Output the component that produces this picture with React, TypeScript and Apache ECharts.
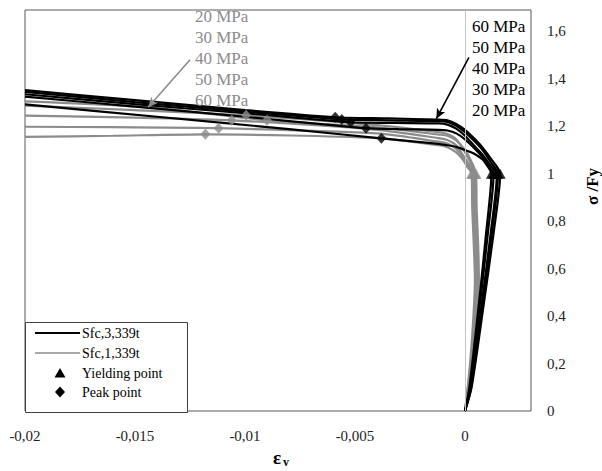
import React, { useEffect, useRef } from "react";
import * as echarts from "echarts";

// ---- Data (ε_v, σ/Fy) ----
const xTicksInterval = 0.005;
const yTicksInterval = 0.2;

// Sfc,3,339t (black) curves
const sfc3_60 = [[0,0],[0.0003,0.1],[0.00085,0.45],[0.0013,0.75],[0.0016,1.0],[0.0012,1.06],[0.0008,1.11],[0.0004,1.15],[0,1.185],[-0.0004,1.21],[-0.0008,1.225],[-0.0012,1.228],[-0.0035,1.233],[-0.0059,1.238],[-0.01,1.268],[-0.015,1.31],[-0.02,1.352]];
const sfc3_50 = [[0,0],[0.00028,0.1],[0.0008,0.45],[0.00122,0.75],[0.0015,1.0],[0.0012,1.045],[0.0008,1.1],[0.0004,1.14],[0,1.175],[-0.0004,1.202],[-0.0008,1.218],[-0.0012,1.222],[-0.0035,1.225],[-0.0056,1.229],[-0.01,1.262],[-0.015,1.302],[-0.02,1.345]];
const sfc3_40 = [[0,0],[0.00026,0.1],[0.00076,0.45],[0.00117,0.75],[0.00145,1.0],[0.0012,1.03],[0.0008,1.08],[0.0004,1.12],[0,1.16],[-0.0004,1.19],[-0.0008,1.207],[-0.0012,1.212],[-0.0032,1.214],[-0.0052,1.217],[-0.01,1.255],[-0.015,1.293],[-0.02,1.335]];
const sfc3_30 = [[0,0],[0.00023,0.1],[0.00068,0.45],[0.00104,0.75],[0.0013,1.0],[0.0011,1.03],[0.0008,1.07],[0.0004,1.11],[0,1.145],[-0.0004,1.17],[-0.0008,1.182],[-0.0012,1.185],[-0.003,1.188],[-0.0045,1.192],[-0.01,1.24],[-0.015,1.283],[-0.02,1.325]];
const sfc3_20 = [[0,0],[0.0002,0.1],[0.00063,0.45],[0.00096,0.75],[0.0012,1.0],[0.001,1.035],[0.0008,1.06],[0.0004,1.085],[0,1.1],[-0.0004,1.113],[-0.0008,1.12],[-0.0012,1.126],[-0.0038,1.149],[-0.008,1.188],[-0.014,1.24],[-0.02,1.292]];

// Sfc,1,339t (grey) curves
const sfc1_20 = [[0,0],[0.00026,0.15],[0.00048,0.35],[0.00063,0.55],[0.0006,0.7],[0.00053,0.85],[0.0005,1.0],[0.0003,1.05],[0,1.1],[-0.0004,1.14],[-0.0008,1.16],[-0.0012,1.165],[-0.004,1.195],[-0.009,1.225],[-0.0144,1.28],[-0.02,1.305]];
const sfc1_30 = [[0,0],[0.00024,0.15],[0.00045,0.35],[0.0006,0.55],[0.00055,0.7],[0.00048,0.85],[0.00045,1.0],[0.00025,1.045],[0,1.09],[-0.0004,1.145],[-0.0008,1.167],[-0.0012,1.175],[-0.004,1.205],[-0.00995,1.246],[-0.015,1.268],[-0.02,1.287]];
const sfc1_40 = [[0,0],[0.00022,0.15],[0.00042,0.35],[0.00055,0.55],[0.0005,0.7],[0.00043,0.85],[0.0004,1.0],[0.0002,1.035],[-0.0001,1.08],[-0.0004,1.12],[-0.0008,1.142],[-0.0012,1.15],[-0.004,1.185],[-0.0106,1.225],[-0.015,1.236],[-0.02,1.245]];
const sfc1_50 = [[0,0],[0.0002,0.15],[0.0004,0.35],[0.0005,0.55],[0.00045,0.7],[0.00038,0.85],[0.00035,1.0],[0.00015,1.03],[-0.0001,1.07],[-0.0004,1.105],[-0.0008,1.127],[-0.0012,1.135],[-0.004,1.17],[-0.0112,1.192],[-0.016,1.196],[-0.02,1.198]];
const sfc1_60 = [[0,0],[0.00018,0.15],[0.00035,0.35],[0.00045,0.55],[0.0004,0.7],[0.00033,0.85],[0.0003,1.0],[0.0001,1.03],[-0.0001,1.06],[-0.0004,1.09],[-0.0008,1.112],[-0.0012,1.12],[-0.004,1.15],[-0.0118,1.166],[-0.016,1.16],[-0.02,1.155]];

// Marked points
const yieldSfc3 = [[0.0016,1.0],[0.0015,1.0],[0.00145,1.0],[0.0013,1.0],[0.0012,1.0]];
const yieldSfc1 = [[0.0005,1.0],[0.00045,1.0],[0.0004,1.0],[0.00035,1.0],[0.0003,1.0]];
const peakSfc3 = [[-0.0059,1.238],[-0.0056,1.229],[-0.0052,1.217],[-0.0045,1.192],[-0.0038,1.149]];
const peakSfc1 = [[-0.009,1.225],[-0.00995,1.246],[-0.0106,1.225],[-0.0112,1.192],[-0.0118,1.166]];

const greyLabels = ["20 MPa", "30 MPa", "40 MPa", "50 MPa", "60 MPa"];
const blackLabels = ["60 MPa", "50 MPa", "40 MPa", "30 MPa", "20 MPa"];

const legendNames = ["Sfc,3,339t", "Sfc,1,339t", "Yielding point", "Peak point"];

const BLACK = "#000000";
const GREY = "#8c8c8c";
const FONT = "Liberation Serif";

const fmt = (v: number) => String(Number(v.toFixed(4))).replace(".", ",");

export default function App() {
  const ref = useRef<HTMLDivElement>(null);
  useEffect(() => {
    if (!ref.current) return;
    const chart = echarts.init(ref.current, undefined, { renderer: "svg" });

    const lineSeries = (name: string, data: number[][], color: string) => ({
      type: "line",
      name,
      data,
      smooth: 0.25,
      symbol: "none",
      showSymbol: false,
      lineStyle: { color, width: 2.2 },
      itemStyle: { color },
      z: color === BLACK ? 3 : 2,
      silent: true,
    });

    const greyCurves = [sfc1_20, sfc1_30, sfc1_40, sfc1_50, sfc1_60];
    const blackCurves = [sfc3_60, sfc3_50, sfc3_40, sfc3_30, sfc3_20];

    const txt = (x: number, y: number, text: string, fill: string, size: number, weight = "normal", extra: any = {}) => ({
      type: "text", x, y, z: 100, ...extra,
      style: {
        text, fill, fontFamily: FONT, fontSize: size, fontWeight: weight,
        verticalAlign: "middle", align: "left",
      },
    });

    const graphics: any[] = [];
    greyLabels.forEach((t, i) => graphics.push(txt(195, 16 + i * 21, t, GREY, 17)));
    blackLabels.forEach((t, i) => graphics.push(txt(472, 26 + i * 21, t, BLACK, 17)));
    graphics.push(txt(273, 457, "ε", BLACK, 19, "bold"));
    graphics.push(txt(283, 462, "v", BLACK, 12, "bold"));
    graphics.push(txt(592, 205, "σ /Fy", BLACK, 17, "bold", { rotation: Math.PI / 2 }));

    // legend box
    const lgX = 25, lgY = 322, lgW = 162, lgH = 90;
    const rowY = [333, 353, 373, 392];
    graphics.push({
      type: "rect", z: 90,
      shape: { x: lgX + 0.5, y: lgY + 0.5, width: lgW, height: lgH },
      style: { fill: "#ffffff", stroke: "#404040", lineWidth: 1 },
    });
    graphics.push({ type: "line", z: 100, shape: { x1: 35, y1: rowY[0], x2: 80, y2: rowY[0] }, style: { stroke: BLACK, lineWidth: 2 } });
    graphics.push({ type: "line", z: 100, shape: { x1: 35, y1: rowY[1], x2: 80, y2: rowY[1] }, style: { stroke: GREY, lineWidth: 1.6 } });
    graphics.push({ type: "polygon", z: 100, shape: { points: [[60, rowY[2] - 5], [65.5, rowY[2] + 4.5], [54.5, rowY[2] + 4.5]] }, style: { fill: BLACK } });
    graphics.push({ type: "polygon", z: 100, shape: { points: [[60, rowY[3] - 5.5], [65, rowY[3]], [60, rowY[3] + 5.5], [55, rowY[3]]] }, style: { fill: BLACK } });
    legendNames.forEach((n, i) => graphics.push(txt(82, rowY[i], n, BLACK, 14)));

    chart.setOption({
      animation: false,
      backgroundColor: "#ffffff",
      textStyle: { fontFamily: FONT },
      grid: {
        left: 25, right: 71, top: 10, bottom: 60,
        show: true, borderColor: "#595959", borderWidth: 1,
      },
      xAxis: {
        type: "value",
        min: -0.02, max: 0.003, interval: xTicksInterval,
        axisLine: { show: false },
        axisTick: { show: false },
        splitLine: { show: false },
        axisLabel: {
          formatter: fmt, showMaxLabel: false, margin: 17,
          color: "#222", fontFamily: FONT, fontSize: 15,
        },
      },
      yAxis: {
        type: "value",
        position: "right",
        min: 0, max: 1.69, interval: yTicksInterval,
        axisLine: { show: false },
        axisTick: { show: false },
        splitLine: { show: false },
        axisLabel: {
          formatter: fmt, showMaxLabel: false, margin: 16,
          color: "#222", fontFamily: FONT, fontSize: 15,
        },
      },
      series: [
        {
          type: "line", name: "axis0", data: [], symbol: "none",
          silent: true,
          markLine: {
            silent: true, symbol: "none", animation: false,
            label: { show: false },
            lineStyle: { color: "#c4c4c4", width: 1, type: "solid" },
            data: [{ xAxis: 0 }],
          },
        },
        ...greyCurves.map((c) => lineSeries("Sfc,1,339t", c, GREY)),
        ...blackCurves.map((c) => lineSeries("Sfc,3,339t", c, BLACK)),
        {
          type: "scatter", name: "Yielding point", symbol: "triangle", symbolSize: [11, 10],
          itemStyle: { color: BLACK }, z: 5, silent: true,
          data: [
            ...yieldSfc1.map((p) => ({ value: p, itemStyle: { color: GREY } })),
            ...yieldSfc3.map((p) => ({ value: p, itemStyle: { color: BLACK } })),
          ],
        },
        {
          type: "scatter", name: "Peak point", symbol: "diamond", symbolSize: [10, 11],
          itemStyle: { color: BLACK }, z: 5, silent: true,
          data: [
            ...peakSfc1.map((p) => ({ value: p, itemStyle: { color: GREY } })),
            ...peakSfc3.map((p) => ({ value: p, itemStyle: { color: BLACK } })),
          ],
        },
        {
          type: "line", name: "arrows", data: [], symbol: "none", silent: true,
          markLine: {
            silent: true, animation: false,
            symbol: ["none", "arrow"], symbolSize: [7, 10],
            label: { show: false },
            data: [
              [
                { coord: [-0.0125, 1.48], lineStyle: { color: GREY, width: 1.6, type: "solid" } },
                { coord: [-0.0144, 1.28] },
              ],
              [
                { coord: [0.00018, 1.49], lineStyle: { color: BLACK, width: 1.6, type: "solid" } },
                { coord: [-0.0013, 1.232] },
              ],
            ],
          },
        },
      ],
      graphic: graphics,
    });
    return () => chart.dispose();
  }, []);
  return <div ref={ref} style={{ width: 602, height: 471, position: "absolute", left: 0, top: 0 }} />;
}
